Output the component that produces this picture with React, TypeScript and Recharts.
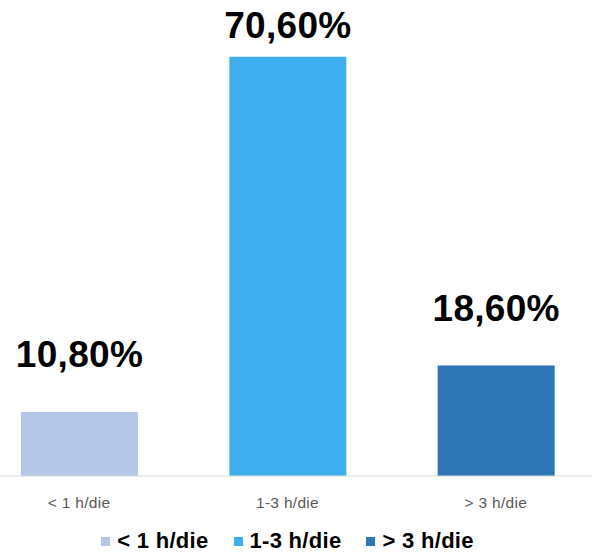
import { BarChart, Bar, XAxis, YAxis, Cell, LabelList, Legend } from 'recharts'

const categories = ['< 1 h/die', '1-3 h/die', '> 3 h/die']
const values = [10.8, 70.6, 18.6]
const colors = ['#B4C7E7', '#3EAEEE', '#2E75B6']

const data = categories.map((name, i) => ({ name, value: values[i] }))

const FONT = '"Liberation Sans", Arial, Helvetica, sans-serif'

function ValueLabel(props: any) {
  const { x, y, width, value } = props
  const baseline = Math.max(y - 45, 38)
  return (
    <text
      x={x + width / 2}
      y={baseline}
      textAnchor="middle"
      fontFamily={FONT}
      fontWeight="bold"
      fontSize={37}
      letterSpacing={0.3}
      fill="#000"
    >
      {value.toFixed(2).replace('.', ',')}%
    </text>
  )
}

function LegendContent() {
  return (
    <div
      style={{
        display: 'flex',
        justifyContent: 'center',
        alignItems: 'center',
        height: 28,
        gap: 25,
        fontFamily: FONT,
      }}
    >
      {categories.map((c, i) => (
        <div key={c} style={{ display: 'flex', alignItems: 'center' }}>
          <span style={{ width: 9, height: 9, background: colors[i], marginRight: 7 }} />
          <span style={{ fontSize: 22, fontWeight: 'bold', letterSpacing: 0.3, color: '#000' }}>{c}</span>
        </div>
      ))}
    </div>
  )
}

export default function App() {
  return (
    <div style={{ position: 'fixed', left: 0, top: 0, width: 592, height: 555, overflow: 'hidden', background: '#fff' }}>
      <div style={{ position: 'absolute', left: -25, top: 0 }}>
        <BarChart width={625} height={555} data={data} margin={{ top: 1, right: 0, left: 0, bottom: 0 }}>
          <XAxis
            dataKey="name"
            axisLine={{ stroke: '#D9D9D9', strokeWidth: 1 }}
            tickLine={false}
            tickMargin={15}
            height={51}
            interval={0}
            tick={{ fill: '#595959', fontSize: 15.5, fontFamily: FONT, letterSpacing: 0.3 }}
          />
          <YAxis hide domain={[0, 80]} />
          <Legend verticalAlign="bottom" height={28} content={<LegendContent />} />
          <Bar dataKey="value" barSize={117} isAnimationActive={false}>
            {data.map((d, i) => (
              <Cell key={d.name} fill={colors[i]} />
            ))}
            <LabelList dataKey="value" content={<ValueLabel />} />
          </Bar>
        </BarChart>
      </div>
    </div>
  )
}
